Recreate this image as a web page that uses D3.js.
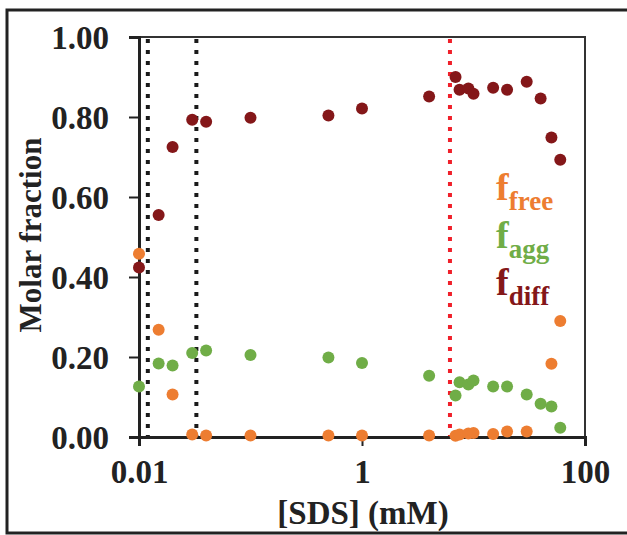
<!DOCTYPE html>
<html>
<head>
<meta charset="utf-8">
<script src="https://cdn.jsdelivr.net/npm/d3@7"></script>
<style>
  body { margin: 0; background: #fff; }
  svg { display: block; font-family: 'Liberation Serif', 'Times New Roman', serif; font-weight: bold; }
  .axis path, .axis line { stroke: #222; }
  .axis text { fill: #222; }
</style>
</head>
<body>
<div id="draw"></div>
<script>
// [SDS] concentrations (mM)
const conc = [0.01, 0.015, 0.02, 0.03, 0.04, 0.1, 0.5, 1, 4, 6.9, 7.5, 9, 10, 15, 20, 30, 40, 50, 60]
const fFree = [0.458, 0.268, 0.106, 0.006, 0.004, 0.004, 0.004, 0.004, 0.004, 0.003, 0.006, 0.009, 0.01, 0.0075, 0.014, 0.014, null, 0.183, 0.29]
const fAgg = [0.126, 0.184, 0.179, 0.21, 0.216, 0.205, 0.199, 0.185, 0.153, 0.104, 0.137, 0.131, 0.141, 0.126, 0.126, 0.106, 0.083, 0.076, 0.023]
const fDiff = [0.424, 0.555, 0.725, 0.793, 0.788, 0.798, 0.804, 0.821, 0.851, 0.9, 0.868, 0.871, 0.858, 0.873, 0.868, 0.888, 0.846, 0.749, 0.693]
const blackLines = [0.012, 0.0327]
const redLines = [6.15]
const yTicks = [0, 0.2, 0.4, 0.6, 0.8, 1.0]
const xTicks = [0.01, 1, 100]

const series = [
  { name: 'free', values: fFree, color: '#ED7D31' },
  { name: 'agg', values: fAgg, color: '#70AD47' },
  { name: 'diff', values: fDiff, color: '#841719' }
]

let W = 627
let H = 535
let margin = { top: 37, right: 42, bottom: 98, left: 139 }
let width = W - margin.left - margin.right
let height = H - margin.top - margin.bottom
let serif = "'Liberation Serif', 'Times New Roman', serif"

let root = d3.select('#draw').append('svg')
  .attr('width', W)
  .attr('height', H)

// outer frame
root.append('rect')
  .attr('x', 7).attr('y', 10)
  .attr('width', 660).attr('height', 523)
  .attr('fill', 'none')
  .attr('stroke', '#222')
  .attr('stroke-width', 3)

let svg = root.append('g')
  .attr('transform', 'translate(' + margin.left + ',' + margin.top + ')')

let x = d3.scaleLog().domain([0.01, 100]).range([0, width])
let y = d3.scaleLinear().domain([0, 1]).range([height, 0])

// top / right frame of plot area
svg.append('path')
  .attr('d', 'M0,0H' + width + 'V' + height)
  .attr('fill', 'none')
  .attr('stroke', '#333')
  .attr('stroke-width', 2)

// dotted reference lines
svg.selectAll('.vline')
  .data(blackLines.map(v => ({ v, c: '#1a1a1a' })).concat(redLines.map(v => ({ v, c: '#F0202A' }))))
  .enter().append('line')
  .attr('class', 'vline')
  .attr('x1', d => x(d.v)).attr('x2', d => x(d.v))
  .attr('y1', 2).attr('y2', height)
  .attr('stroke', d => d.c)
  .attr('stroke-width', 4)
  .attr('stroke-dasharray', '4,7')

// axes
let yAxis = d3.axisLeft(y).tickValues(yTicks).tickSize(10).tickPadding(20)
  .tickFormat(d3.format('.2f'))
let xAxis = d3.axisBottom(x).tickValues(xTicks).tickSize(9).tickPadding(14)
  .tickFormat(d => d === 0.01 ? '0.01' : String(d))

let gy = svg.append('g').attr('class', 'axis').call(yAxis)
  .attr('font-family', serif)
gy.select('.domain').attr('stroke-width', 3)
gy.selectAll('.tick line').attr('stroke-width', 2)
gy.selectAll('text').style('font-size', '33px').attr('dy', '0.36em')

let gx = svg.append('g').attr('class', 'axis')
  .attr('transform', 'translate(0,' + height + ')')
  .call(xAxis)
  .attr('font-family', serif)
gx.select('.domain').attr('stroke-width', 3)
gx.selectAll('.tick line').attr('stroke-width', 2)
gx.selectAll('text').style('font-size', '33px')

// points
series.forEach(function (s) {
  svg.selectAll('.pt-' + s.name)
    .data(conc.map((c, i) => ({ c, v: s.values[i] })).filter(d => d.v !== null))
    .enter().append('circle')
    .attr('class', 'pt-' + s.name)
    .attr('cx', d => x(d.c))
    .attr('cy', d => y(d.v))
    .attr('r', 6)
    .attr('fill', s.color)
})

// axis titles
root.append('text')
  .attr('x', 363).attr('y', 524)
  .attr('text-anchor', 'middle')
  .style('font-size', '33px')
  .attr('fill', '#222')
  .text('[SDS] (mM)')

root.append('text')
  .attr('transform', 'translate(41,235) rotate(-90)')
  .attr('text-anchor', 'middle')
  .style('font-size', '31px')
  .attr('fill', '#222')
  .text('Molar fraction')

// legend
let legend = root.selectAll('.legend')
  .data(series)
  .enter().append('text')
  .attr('class', 'legend')
  .attr('x', 496)
  .attr('y', (d, i) => 200 + i * 47.5)
  .attr('fill', d => d.color)
  .style('font-size', '38px')

legend.append('tspan').text('f')
legend.append('tspan')
  .attr('dy', 10)
  .style('font-size', '27px')
  .text(d => d.name)
</script>
</body>
</html>
